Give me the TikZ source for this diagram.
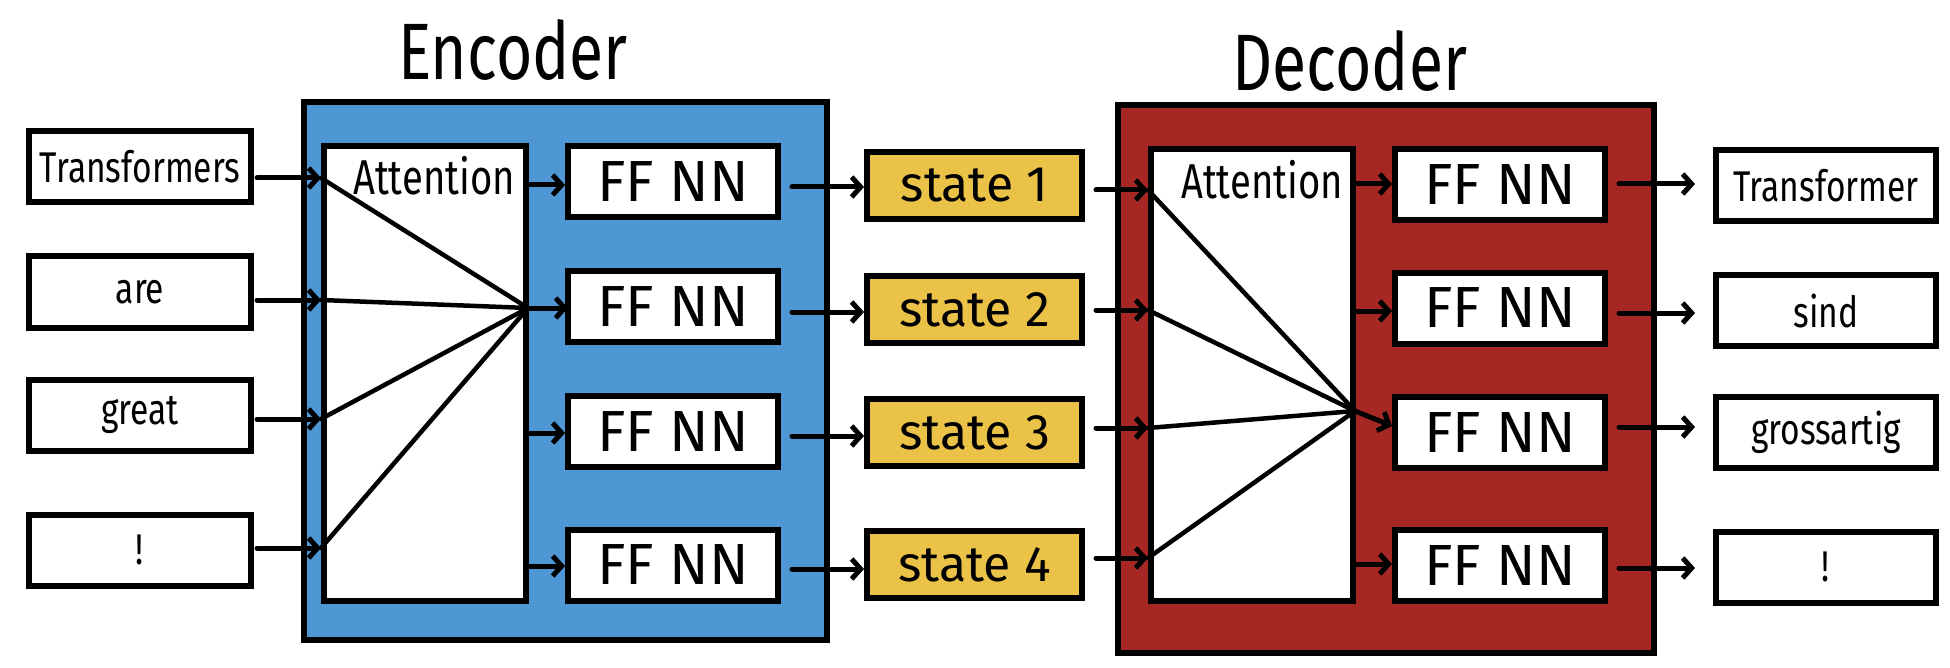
\documentclass[tikz,border=0pt]{standalone}
\usepackage{fontspec}
\usetikzlibrary{arrows.meta}
\newfontfamily\handN[FakeStretch=0.78]{Fira Sans}
\newfontfamily\hand{Fira Sans}
\definecolor{encblue}{RGB}{79,150,212}
\definecolor{decred}{RGB}{166,39,35}
\definecolor{stateyellow}{RGB}{234,194,71}
\tikzset{
  box/.style={draw=black, line width=6pt, fill=white, inner sep=0pt, outer sep=0pt},
  wordbox/.style={box, minimum width=222pt, minimum height=71pt, font=\handN\fontsize{43}{45}\selectfont},
  ffbox/.style={box, minimum width=210pt, minimum height=71pt, font=\hand\fontsize{58}{60}\selectfont},
  statebox/.style={box, fill=stateyellow, minimum width=215pt, minimum height=67pt, font=\hand\fontsize{50}{52}\selectfont},
  attbox/.style={box, minimum width=202pt},
  attlabel/.style={inner sep=0pt, font=\handN\fontsize{49}{51}\selectfont},
  titlelabel/.style={inner sep=0pt, font=\handN\fontsize{80}{82}\selectfont},
  arr/.style={line width=5pt, line cap=round, -{Straight Barb[length=9pt,width=20pt]}},
  attline/.style={line width=4.5pt, line cap=round}
}
\begin{document}
\begin{tikzpicture}[x=1pt,y=-1pt]
\useasboundingbox (0,0) rectangle (1950,668);

% ---------- Encoder ----------
\node[titlelabel] (enct) at (513,50) {Encoder};
\node[box, fill=encblue, minimum width=523pt, minimum height=537pt] (enc) at (565.5,371) {};
\node[attbox, minimum height=455pt] (att) at (425,373.5) {};
\node[attlabel] (attlbl) at (434,176) {Attention};

\node[ffbox] (eff1) at (673,181.5) {FF NN};
\node[ffbox] (eff2) at (673,306.5) {FF NN};
\node[ffbox] (eff3) at (673,431.5) {FF NN};
\node[ffbox] (eff4) at (673,565) {FF NN};

% inputs
\node[wordbox] (in1) at (140,167) {Transformers};
\node[wordbox] (in2) at (140,292) {are};
\node[wordbox] (in3) at (140,415) {great};
\node[wordbox] (in4) at (140,550) {!};

% attention points
\coordinate (ea1) at (321,178);
\coordinate (ea2) at (321,300);
\coordinate (ea3) at (321,419);
\coordinate (ea4) at (321,548);
\coordinate (ec) at (528,308);

\foreach \i in {1,2,3,4} {
  \draw[arr, shorten <=6pt] (in\i.east |- ea\i) -- (ea\i);
  \draw[attline] (ea\i) -- (ec);
}

% attention -> FF
\coordinate (ef1) at (565,185);
\coordinate (ef3) at (565,433);
\coordinate (ef4) at (565,566);
\draw[arr] (att.east |- ef1) -- (ef1);
\draw[arr] (ec) -- (eff2.west |- ec);
\draw[arr] (att.east |- ef3) -- (ef3);
\draw[arr] (att.east |- ef4) -- (ef4);

% ---------- States ----------
\node[statebox] (st1) at (974.5,185.5) {state 1};
\node[statebox] (st2) at (974.5,309.5) {state 2};
\node[statebox] (st3) at (974.5,432.5) {state 3};
\node[statebox] (st4) at (974.5,564.5) {state 4};

\coordinate (es1) at (864,187);
\coordinate (es2) at (864,312);
\coordinate (es3) at (864,436);
\coordinate (es4) at (864,569);
\foreach \i in {1,2,3,4} {
  \draw[arr, shorten <=14pt] (eff\i.east |- es\i) -- (es\i);
}

% ---------- Decoder ----------
\node[titlelabel] (dect) at (1350,61) {Decoder};
\node[box, fill=decred, minimum width=536pt, minimum height=548pt] (dec) at (1386,379) {};
\node[attbox, minimum height=452pt] (datt) at (1251.5,375) {};
\node[attlabel] (dattlbl) at (1262,180) {Attention};

\node[ffbox] (dff1) at (1500,184.5) {FF NN};
\node[ffbox] (dff2) at (1500,308) {FF NN};
\node[ffbox] (dff3) at (1500,432.5) {FF NN};
\node[ffbox] (dff4) at (1500,565.5) {FF NN};

\coordinate (da1) at (1148,190);
\coordinate (da2) at (1148,310);
\coordinate (da3) at (1148,428);
\coordinate (da4) at (1148,558);
\coordinate (dc) at (1355,411);

\foreach \i in {1,2,3,4} {
  \draw[arr, shorten <=14pt] (st\i.east |- da\i) -- (da\i);
  \draw[attline] (da\i) -- (dc);
}

\coordinate (df1) at (1392,184);
\coordinate (df2) at (1392,311);
\coordinate (df3) at (1392,426);
\coordinate (df4) at (1392,564);
\draw[arr] (datt.east |- df1) -- (df1);
\draw[arr] (datt.east |- df2) -- (df2);
\draw[arr] (dc) -- (df3);
\draw[arr] (datt.east |- df4) -- (df4);

% ---------- Outputs ----------
\node[wordbox, minimum width=220pt] (out1) at (1826,186) {Transformer};
\node[wordbox, minimum width=220pt] (out2) at (1826,310.5) {sind};
\node[wordbox, minimum width=220pt] (out3) at (1826,432.5) {grossartig};
\node[wordbox, minimum width=220pt] (out4) at (1826,567) {!};

\coordinate (do1) at (1695,184);
\coordinate (do2) at (1695,313);
\coordinate (do3) at (1695,427);
\coordinate (do4) at (1695,568);
\foreach \i in {1,2,3,4} {
  \draw[arr, shorten <=14pt] (dff\i.east |- do\i) -- (do\i);
}
\end{tikzpicture}
\end{document}
